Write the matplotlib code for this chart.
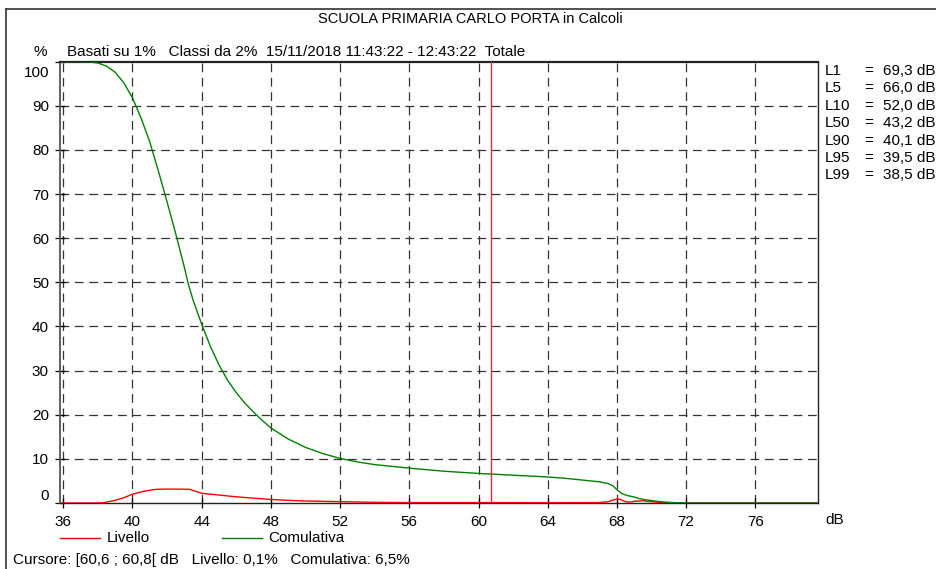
import matplotlib
matplotlib.use("Agg")
import matplotlib.pyplot as plt
import matplotlib.transforms as mtransforms
from matplotlib.lines import Line2D

plt.rcParams['font.family'] = ['Liberation Sans', 'DejaVu Sans']

# ---- data ----
title = "SCUOLA PRIMARIA CARLO PORTA in Calcoli"
subtitle = "Basati su 1%   Classi da 2%  15/11/2018 11:43:22 - 12:43:22  Totale"
x_ticks = [36, 40, 44, 48, 52, 56, 60, 64, 68, 72, 76]
y_ticks = [0, 10, 20, 30, 40, 50, 60, 70, 80, 90, 100]

cum_db = [35.8, 36, 37, 37.5, 38, 38.5, 39, 39.5, 40, 40.5, 41, 41.5,
          42, 42.5, 43, 43.2, 43.5, 44, 44.5, 45, 45.5, 46, 46.5, 47, 47.5, 48,
          49, 50, 51, 52, 53, 54, 56, 58, 60, 62, 64, 65, 66, 67, 67.5, 67.8,
          68, 68.3, 68.6, 69, 69.3, 69.7, 70, 70.5, 71, 71.5, 72, 73, 79.6]
cum_val = [100, 100, 100, 99.95, 99.7, 99.0, 97.6, 95.2, 91.8, 87.2, 81.8, 75.2,
           68.2, 61.0, 53.4, 50.0, 46.0, 40.5, 35.5, 31.3, 27.8, 25.0, 22.6, 20.6, 18.7, 17.0,
           14.5, 12.6, 11.2, 10.1, 9.3, 8.7, 7.9, 7.2, 6.7, 6.3, 5.9, 5.6, 5.2, 4.8, 4.4, 3.8,
           3.0, 2.1, 1.7, 1.35, 1.0, 0.7, 0.55, 0.3, 0.15, 0.06, 0.02, 0.0, 0.0]

liv_db = [35.8, 37, 38, 38.3, 39, 39.5, 40, 40.5, 41, 41.4, 42, 42.5, 43.3, 44, 45, 46,
          47, 48, 49, 50, 52, 54, 56, 60, 64, 66, 67, 67.5, 67.8, 68, 68.2, 68.5,
          68.8, 69, 69.5, 70, 70.5, 71, 72, 79.6]
liv_val = [0, 0, 0, 0.05, 0.6, 1.2, 2.0, 2.5, 2.9, 3.1, 3.15, 3.15, 3.1, 2.2, 1.8, 1.4,
           1.1, 0.8, 0.6, 0.45, 0.3, 0.15, 0.1, 0.1, 0.08, 0.1, 0.1, 0.3, 0.7, 0.9, 0.8, 0.3,
           0.2, 0.4, 0.5, 0.3, 0.1, 0.05, 0, 0]

cursor_db = 60.7
stat_names = ["L1", "L5", "L10", "L50", "L90", "L95", "L99"]
stat_vals = ["69,3 dB", "66,0 dB", "52,0 dB", "43,2 dB", "40,1 dB", "39,5 dB", "38,5 dB"]
legend_labels = ["Livello", "Comulativa"]
cursor_text = "Cursore: [60,6 ; 60,8[ dB   Livello: 0,1%   Comulativa: 6,5%"

# ---- figure ----
W, H = 937, 569
fig = plt.figure(figsize=(W / 100, H / 100), dpi=100)
FS = 11

def fx(px):
    return px / W

def fy(py):
    return 1 - py / H

ax = fig.add_axes([fx(60), fy(503), fx(818.3) - fx(60), fy(61.7) - fy(503)])
ax.set_xlim(35.81, 79.64)
ax.set_ylim(0, 100)

grid_kw = dict(color='#333333', lw=0.9, dashes=(7, 4.5), zorder=1)
for t in x_ticks:
    ax.axvline(t, **grid_kw)
for t in y_ticks[1:-1]:
    ax.axhline(t, **grid_kw)

ax.plot(liv_db, liv_val, color='#ff0000', lw=1.0, zorder=3)
ax.plot(cum_db, cum_val, color='#008000', lw=1.0, zorder=3)
ax.axvline(cursor_db, color='#e03030', lw=1.0, zorder=4)

ax.set_xticks(x_ticks)
ax.set_yticks(y_ticks)
ax.tick_params(axis='both', direction='inout', length=7, width=0.9, labelsize=FS,
               colors='black')
ax.tick_params(axis='x', pad=5)
ax.tick_params(axis='y', pad=4.5)
for s in ax.spines.values():
    s.set_color('#222222')
    s.set_linewidth(1.0)
ax.spines['top'].set_linewidth(1.6)
ax.spines['left'].set_color('#555555')
ax.spines['left'].set_linewidth(1.3)

# shift the end y labels inward (0 up, 100 down) like the reference
ylabels = ax.get_yticklabels()
ylabels[0].set_transform(ylabels[0].get_transform() +
                         mtransforms.ScaledTranslation(0, 8 / 100, fig.dpi_scale_trans))
ylabels[-1].set_transform(ylabels[-1].get_transform() +
                          mtransforms.ScaledTranslation(0, -9.5 / 100, fig.dpi_scale_trans))

# texts
fig.text(fx(470), fy(19), title, ha='center', va='center', fontsize=10.5)
fig.text(fx(40), fy(52), "%", ha='center', va='center', fontsize=FS)
fig.text(fx(67), fy(52), subtitle, ha='left', va='center', fontsize=FS)
fig.text(fx(825), fy(520), "dB", ha='left', va='center', fontsize=FS)

for i, (n, v) in enumerate(zip(stat_names, stat_vals)):
    yy = 71 + i * 17.4
    fig.text(fx(825), fy(yy), n, ha='left', va='center', fontsize=FS)
    fig.text(fx(864), fy(yy), "=", ha='left', va='center', fontsize=FS)
    fig.text(fx(883), fy(yy), v, ha='left', va='center', fontsize=FS)

# legend
fig.add_artist(Line2D([fx(60), fx(100)], [fy(538), fy(538)], color='#ff0000', lw=1.0))
fig.text(fx(107), fy(538), legend_labels[0], ha='left', va='center', fontsize=FS)
fig.add_artist(Line2D([fx(222), fx(262)], [fy(538), fy(538)], color='#008000', lw=1.0))
fig.text(fx(268), fy(538), legend_labels[1], ha='left', va='center', fontsize=FS)
fig.text(fx(13), fy(560), cursor_text, ha='left', va='center', fontsize=FS)

# outer frame (top and left)
fig.add_artist(Line2D([fx(6), 1], [fy(9), fy(9)], color='#333333', lw=1.2))
fig.add_artist(Line2D([fx(6), fx(6)], [fy(9), 0], color='#333333', lw=1.2))

fig.savefig("out.png", dpi=100)
